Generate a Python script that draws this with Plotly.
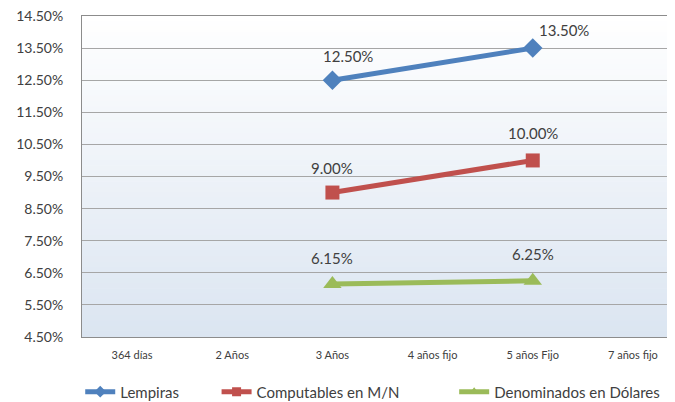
import plotly.graph_objects as go

categories = ["364 días", "2 Años", "3 Años", "4 años fijo", "5 años Fijo", "7 años fijo"]
lempiras = [None, None, 12.50, None, 13.50, None]
computables = [None, None, 9.00, None, 10.00, None]
dolares = [None, None, 6.15, None, 6.25, None]
y_ticks = [4.5, 5.5, 6.5, 7.5, 8.5, 9.5, 10.5, 11.5, 12.5, 13.5, 14.5]

series = [
    ("Lempiras", lempiras, "#4f81bd", "diamond", 15, [(16, 24), (31, 18)], "legend", 0.107),
    ("Computables en M/N", computables, "#c0504d", "square", 14, [(0, 25), (0, 27)], "legend2", 0.309),
    ("Denominados en Dólares", dolares, "#9bbb59", "triangle-up", 16, [(0, 26), (0, 27)], "legend3", 0.661),
]

FONT = "Lato"
fig = go.Figure()
annotations = []
legends = {}
for name, vals, color, sym, msize, shifts, leg, lx in series:
    xs = [c for c, v in zip(categories, vals) if v is not None]
    ys = [v for v in vals if v is not None]
    fig.add_trace(go.Scatter(
        x=xs, y=ys, name=name, mode="lines+markers", showlegend=False,
        line=dict(color=color, width=5),
        marker=dict(symbol=sym, size=msize, color=color),
    ))
    # legend entry with smaller marker (as in the reference)
    fig.add_trace(go.Scatter(
        x=[None], y=[None], name=name, mode="lines+markers", legend=leg,
        line=dict(color=color, width=5),
        marker=dict(symbol=sym, size=9, color=color),
    ))
    legends[leg] = dict(orientation="h", x=lx, xanchor="left", xref="container",
                        y=0.045, yanchor="middle", yref="container",
                        font=dict(family=FONT, size=15, color="#404040"),
                        bgcolor="rgba(0,0,0,0)", borderwidth=0)
    for (cx, cy), (dx, dy) in zip(zip(xs, ys), shifts):
        annotations.append(dict(
            x=cx, y=cy, text=f"{cy:.2f}%", showarrow=False,
            xshift=dx, yshift=dy, font=dict(family=FONT, size=15, color="#404040"),
        ))

# background gradient (white -> light blue)
n = 60
top = (255, 255, 255)
bot = (219, 229, 241)
shapes = []
for i in range(n):
    t = (i + 0.5) / n
    c = tuple(round(top[k] + (bot[k] - top[k]) * t) for k in range(3))
    shapes.append(dict(type="rect", xref="paper", yref="paper",
                       x0=0, x1=1, y0=1 - (i + 1) / n, y1=1 - i / n + 0.002,
                       fillcolor=f"rgb{c}", line=dict(width=0), layer="below"))

fig.update_layout(
    width=675, height=402,
    margin=dict(l=74, r=0, t=8, b=73, autoexpand=False),
    paper_bgcolor="white", plot_bgcolor="rgba(0,0,0,0)",
    shapes=shapes, annotations=annotations,
    font=dict(family=FONT, color="#404040"),
    showlegend=True,
    xaxis=dict(type="category", categoryorder="array", categoryarray=categories,
               range=[-0.5, 5.5], showgrid=False, showline=True, linecolor="#8c8c8c",
               linewidth=1, mirror=True, ticks="",
               tickfont=dict(family=FONT, size=11, color="#404040"),
               ticklabelstandoff=8, zeroline=False, automargin=False),
    yaxis=dict(range=[4.5, 14.5], tickvals=y_ticks,
               ticktext=[f"{v:.2f}%" for v in y_ticks],
               showgrid=True, gridcolor="#a6a6a6", gridwidth=1,
               showline=True, linecolor="#8c8c8c", linewidth=1, mirror=False,
               ticks="", tickfont=dict(family=FONT, size=14, color="#404040"),
               ticklabelstandoff=15, ticklabeloverflow="allow",
               zeroline=False, automargin=False),
    **legends,
)
fig.write_html("out.html")
